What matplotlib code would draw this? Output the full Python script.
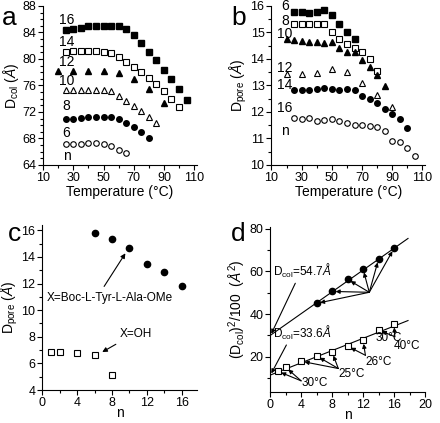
import numpy as np
import matplotlib.pyplot as plt
from matplotlib.ticker import MultipleLocator

plt.rcParams['font.family'] = ['Liberation Sans', 'DejaVu Sans']
plt.rcParams['mathtext.fontset'] = 'custom'
plt.rcParams['mathtext.rm'] = 'Liberation Sans'
plt.rcParams['mathtext.it'] = 'Liberation Sans:italic'

# ---- panel a: D_col vs temperature ----
a_T16 = [25, 30, 35, 40, 45, 50, 55, 60, 65, 70, 75, 80, 85, 90, 95, 100, 105]
a_D16 = [84.3, 84.5, 84.6, 84.9, 85.0, 85.0, 85.0, 85.0, 84.5, 83.6, 82.4, 81.0, 79.8, 78.4, 77.0, 75.5, 73.8]
a_T14 = [25, 30, 35, 40, 45, 50, 55, 60, 65, 70, 75, 80, 85, 90, 95, 100]
a_D14 = [81.1, 81.2, 81.2, 81.2, 81.2, 81.1, 80.9, 80.3, 79.6, 78.8, 78.0, 77.1, 76.2, 75.2, 74.0, 72.8]
a_T12 = [20, 30, 40, 50, 60, 70, 80, 90]
a_D12 = [78.2, 78.2, 78.2, 78.2, 77.9, 76.9, 75.4, 73.4]
a_T10 = [25, 30, 35, 40, 45, 50, 55, 60, 65, 70, 75, 80, 85]
a_D10 = [75.3, 75.3, 75.3, 75.3, 75.3, 75.3, 75.2, 74.4, 73.7, 72.9, 72.2, 71.3, 70.4]
a_T8 = [25, 30, 35, 40, 45, 50, 55, 60, 65, 70, 75, 80]
a_D8 = [71.0, 71.0, 71.1, 71.2, 71.3, 71.3, 71.2, 70.9, 70.4, 69.8, 69.0, 68.1]
a_T6 = [25, 30, 35, 40, 45, 50, 55, 60, 65]
a_D6 = [67.1, 67.2, 67.2, 67.3, 67.3, 67.2, 66.8, 66.3, 65.8]

# ---- panel b: D_pore vs temperature ----
b_T6 = [25, 30, 35, 40, 45, 50, 55, 60, 65]
b_D6 = [15.76, 15.76, 15.74, 15.76, 15.85, 15.66, 15.31, 15.01, 14.75]
b_T8 = [25, 30, 35, 40, 45, 50, 55, 60, 65, 70, 75, 80]
b_D8 = [15.31, 15.31, 15.31, 15.31, 15.31, 15.0, 14.75, 14.55, 14.43, 14.25, 13.99, 13.56]
b_T10 = [20, 25, 30, 35, 40, 45, 50, 55, 60, 65, 70, 75, 80, 85]
b_D10 = [14.75, 14.72, 14.69, 14.65, 14.63, 14.59, 14.65, 14.43, 14.28, 14.25, 13.96, 13.71, 13.40, 12.98]
b_T12 = [20, 30, 40, 50, 60, 70, 80, 90]
b_D12 = [13.43, 13.43, 13.46, 13.61, 13.52, 13.08, 12.64, 12.18]
b_T14 = [25, 30, 35, 40, 45, 50, 55, 60, 65, 70, 75, 80, 85, 90, 95, 100]
b_D14 = [12.83, 12.83, 12.83, 12.86, 12.89, 12.87, 12.83, 12.86, 12.83, 12.62, 12.49, 12.33, 12.11, 11.91, 11.74, 11.41]
b_T16 = [25, 30, 35, 40, 45, 50, 55, 60, 65, 70, 75, 80, 85, 90, 95, 100, 105]
b_D16 = [11.76, 11.74, 11.79, 11.67, 11.70, 11.74, 11.64, 11.60, 11.51, 11.51, 11.47, 11.45, 11.28, 10.91, 10.86, 10.63, 10.35]

# ---- panel c: D_pore vs n ----
c_n_boc = [6, 8, 10, 12, 14, 16]
c_D_boc = [15.8, 15.38, 14.7, 13.45, 12.88, 11.8]
c_n_oh = [1, 2, 4, 6, 8]
c_D_oh = [6.85, 6.85, 6.75, 6.65, 5.15]

# ---- panel d: (D_col)^2/100 vs n ----
d_n_boc = [6, 8, 10, 12, 14, 16]
d_y_boc = [45.0, 50.6, 56.3, 61.1, 65.8, 70.9]
d_n_oh = [1, 2, 4, 6, 8, 10, 12, 14, 16]
d_y_oh = [13.1, 15.0, 17.8, 20.3, 22.0, 24.9, 27.6, 32.6, 35.3]
dcol_boc, slope_boc = 54.7, 2.56
dcol_oh, slope_oh = 33.6, 1.44

fs_tick = 9
fs_lab = 10
ms = 4

fig = plt.figure(figsize=(4.4, 4.23), dpi=100)
axa = fig.add_axes([0.098, 0.610, 0.350, 0.376])
axb = fig.add_axes([0.617, 0.610, 0.350, 0.376])
axc = fig.add_axes([0.096, 0.078, 0.351, 0.390])
axd = fig.add_axes([0.614, 0.074, 0.352, 0.390])

for ax in (axa, axb, axc, axd):
    ax.spines['top'].set_visible(False)
    ax.spines['right'].set_visible(False)
    ax.tick_params(which='both', direction='out', labelsize=fs_tick, width=0.8, pad=1.5)
    ax.tick_params(which='major', length=3.5)
    ax.tick_params(which='minor', length=2)

kw_f = dict(ls='none', color='black', ms=ms)
kw_o = dict(ls='none', color='black', mfc='white', ms=ms, mew=0.8)

# panel a
axa.plot(a_T16, a_D16, marker='s', **kw_f)
axa.plot(a_T14, a_D14, marker='s', **kw_o)
axa.plot(a_T12, a_D12, marker='^', **kw_f)
axa.plot(a_T10, a_D10, marker='^', **kw_o)
axa.plot(a_T8, a_D8, marker='o', **kw_f)
axa.plot(a_T6, a_D6, marker='o', **kw_o)
for lab, y in [('16', 85.9), ('14', 82.5), ('12', 79.6), ('10', 76.6), ('8', 72.9), ('6', 68.8), ('n', 65.4)]:
    axa.text(25.5, y, lab, ha='center', va='center', fontsize=fs_lab)
axa.set_xlim(10, 112)
axa.set_ylim(64, 88)
axa.xaxis.set_major_locator(MultipleLocator(20, offset=10))
axa.xaxis.set_minor_locator(MultipleLocator(10))
axa.yaxis.set_major_locator(MultipleLocator(4))
axa.yaxis.set_minor_locator(MultipleLocator(1))
axa.set_xlabel('Temperature (°C)', fontsize=fs_lab, labelpad=1)
axa.set_ylabel('D$_{\\rm col}$ ($\\AA$)', fontsize=fs_lab, labelpad=1)

# panel b
axb.plot(b_T6, b_D6, marker='s', **kw_f)
axb.plot(b_T8, b_D8, marker='s', **kw_o)
axb.plot(b_T10, b_D10, marker='^', **kw_f)
axb.plot(b_T12, b_D12, marker='^', **kw_o)
axb.plot(b_T14, b_D14, marker='o', **kw_f)
axb.plot(b_T16, b_D16, marker='o', **kw_o)
for lab, y in [('6', 16.0), ('8', 15.45), ('10', 14.93), ('12', 13.65), ('14', 13.02), ('16', 12.14), ('n', 11.28)]:
    axb.text(19, y, lab, ha='center', va='center', fontsize=fs_lab)
axb.set_xlim(10, 112)
axb.set_ylim(10, 16)
axb.xaxis.set_major_locator(MultipleLocator(20, offset=10))
axb.xaxis.set_minor_locator(MultipleLocator(10))
axb.yaxis.set_major_locator(MultipleLocator(1))
axb.yaxis.set_minor_locator(MultipleLocator(0.5))
axb.set_xlabel('Temperature (°C)', fontsize=fs_lab, labelpad=1)
axb.set_ylabel('D$_{\\rm pore}$ ($\\AA$)', fontsize=fs_lab, labelpad=1)

# panel c
axc.plot(c_n_boc, c_D_boc, marker='o', ls='none', color='black', ms=4.5)
axc.plot(c_n_oh, c_D_oh, marker='s', **kw_o)
axc.annotate('X=Boc-L-Tyr-L-Ala-OMe', xy=(9.7, 14.45), xytext=(0.5, 10.95),
             fontsize=8.5, va='center',
             arrowprops=dict(arrowstyle='-|>', color='black', lw=0.8,
                             mutation_scale=7, relpos=(0.43, 1.0)))
axc.annotate('X=OH', xy=(6.6, 6.75), xytext=(8.9, 8.2), fontsize=8.5, va='center',
             arrowprops=dict(arrowstyle='-|>', color='black', lw=0.8,
                             mutation_scale=7, relpos=(0.1, 0.0)))
axc.set_xlim(0, 17.7)
axc.set_ylim(4, 16.4)
axc.xaxis.set_major_locator(MultipleLocator(4))
axc.xaxis.set_minor_locator(MultipleLocator(2))
axc.yaxis.set_major_locator(MultipleLocator(2))
axc.yaxis.set_minor_locator(MultipleLocator(1))
axc.set_xlabel('n', fontsize=fs_lab, labelpad=-2)
axc.set_ylabel('D$_{\\rm pore}$ ($\\AA$)', fontsize=fs_lab, labelpad=1)

# panel d
n_line = np.array([0, 17.8])
axd.plot(n_line, dcol_boc ** 2 / 100 + slope_boc * n_line, color='black', lw=0.8)
axd.plot(n_line, dcol_oh ** 2 / 100 + slope_oh * n_line, color='black', lw=0.8)
axd.plot(d_n_boc, d_y_boc, marker='o', ls='none', color='black', ms=4.5)
axd.plot(d_n_oh, d_y_oh, marker='s', **kw_o)

arw = dict(arrowstyle='-|>', color='black', lw=0.8, mutation_scale=6, shrinkA=0, shrinkB=2.5)
axd.annotate('D$_{\\rm col}$=54.7$\\AA$', xy=(0.15, dcol_boc ** 2 / 100 + 0.8), xytext=(0.4, 60),
             fontsize=8.5, va='center', arrowprops=dict(arw, relpos=(0.4, 0.0), shrinkB=0))
axd.annotate('D$_{\\rm col}$=33.6$\\AA$', xy=(0.15, dcol_oh ** 2 / 100 + 0.8), xytext=(0.4, 31),
             fontsize=8.5, va='center', arrowprops=dict(arw, relpos=(0.25, 0.0), shrinkB=0))
axd.text(13.6, 28.8, '30°C', fontsize=8.5, va='center')
for n, y in zip(d_n_boc, d_y_boc):
    axd.annotate('', xy=(n, y), xytext=(12.8, 50.2), arrowprops=arw)
axd.text(16.0, 24.8, '40°C', fontsize=8.5, va='center')
for n, y in zip(d_n_oh[7:], d_y_oh[7:]):
    axd.annotate('', xy=(n, y), xytext=(16.1, 29.3), arrowprops=arw)
axd.text(12.3, 17.4, '26°C', fontsize=8.5, va='center')
for n, y in zip(d_n_oh[5:7], d_y_oh[5:7]):
    axd.annotate('', xy=(n, y), xytext=(12.3, 20.6), arrowprops=arw)
axd.text(8.8, 12.0, '25°C', fontsize=8.5, va='center')
for n, y in zip(d_n_oh[2:5], d_y_oh[2:5]):
    axd.annotate('', xy=(n, y), xytext=(8.8, 14.4), arrowprops=arw)
axd.text(4.0, 7.7, '30°C', fontsize=8.5, va='center')
for n, y in zip(d_n_oh[0:2], d_y_oh[0:2]):
    axd.annotate('', xy=(n, y), xytext=(4.0, 8.6), arrowprops=arw)
axd.set_xlim(0, 20)
axd.set_ylim(3.5, 81)
axd.xaxis.set_major_locator(MultipleLocator(4))
axd.xaxis.set_minor_locator(MultipleLocator(2))
axd.yaxis.set_major_locator(MultipleLocator(20))
axd.yaxis.set_minor_locator(MultipleLocator(10))
axd.set_xlabel('n', fontsize=fs_lab, labelpad=-2)
axd.set_ylabel('(D$_{\\rm col}$)$^2$/100  ($\\AA^2$)', fontsize=fs_lab, labelpad=1)

# panel letters
for x, y, s in [(0.005, 0.985, 'a'), (0.525, 0.985, 'b'), (0.018, 0.475, 'c'), (0.525, 0.475, 'd')]:
    fig.text(x, y, s, fontsize=19, va='top', ha='left')

fig.savefig('out.png', dpi=100)
